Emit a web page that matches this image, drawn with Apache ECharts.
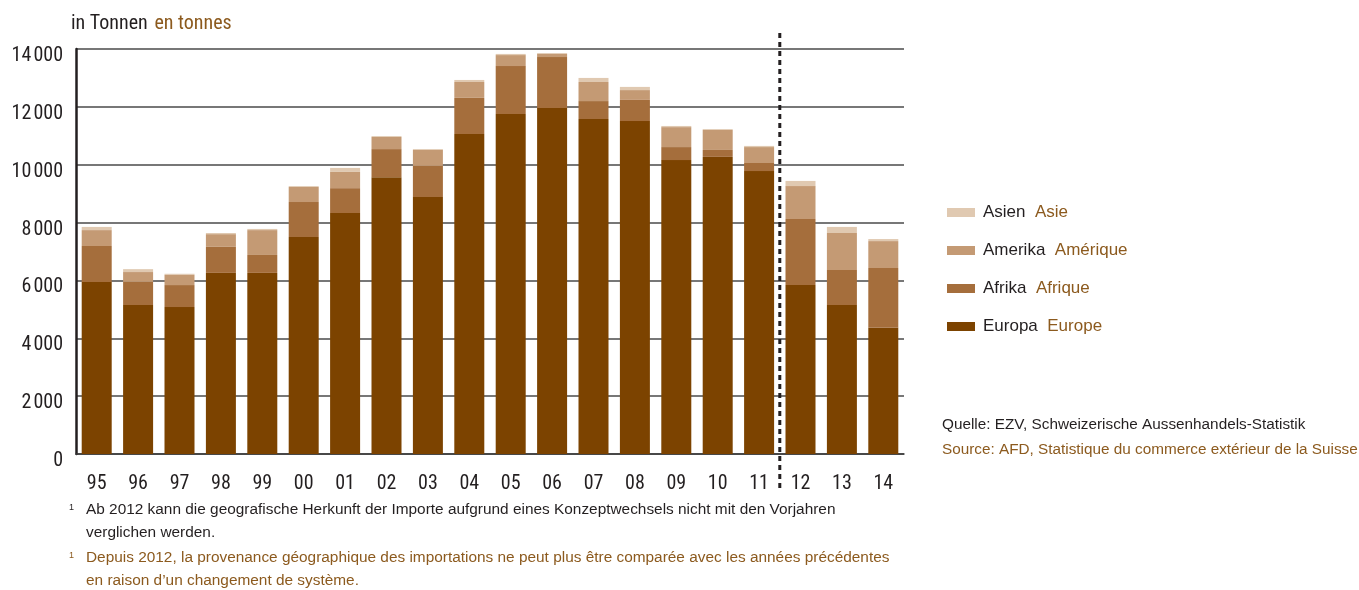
<!DOCTYPE html>
<html>
<head>
<meta charset="utf-8">
<script src="https://cdn.jsdelivr.net/npm/echarts@6/dist/echarts.min.js"></script>
<style>
html,body{margin:0;padding:0;background:#fff;}
#main{width:1359px;height:590px;}
</style>
</head>
<body>
<div id="main"></div>
<script>
const years = ['95','96','97','98','99','00','01','02','03','04','05','06','07','08','09','10','11','12','13','14'];
const europa  = [5950,5150,5080,6260,6260,7500,8330,9570,8880,11060,11750,11960,11580,11510,10160,10270,9780,5840,5150,4360];
const afrika  = [1240,800,760,900,620,1210,860,970,1080,1250,1660,1760,620,730,450,240,280,2280,1210,2070];
const amerika = [550,340,350,440,860,520,560,420,550,550,380,110,660,340,690,690,550,1140,1280,930];
const asien   = [110,100,40,40,40,30,140,30,30,70,40,30,140,110,40,30,40,180,210,70];
const seriesNamesDe = ['Europa','Afrika','Amerika','Asien'];
const seriesNamesFr = ['Europe','Afrique','Amérique','Asie'];
const seriesColors = ['#7c4300','#a56e3c','#c49a74','#e0c9b1'];
const breakAfter = '11';

const FONT = "'Roboto Condensed','Liberation Sans Narrow','Liberation Sans',sans-serif";
const SFONT = "'Liberation Sans',Arimo,Arial,sans-serif";
const DARK = '#231f20';
const BROWN = '#8c5a1e';

const chart = echarts.init(document.getElementById('main'), null, {renderer:'canvas'});
const dataSets = [europa, afrika, amerika, asien];
const series = dataSets.map((d, i) => ({
  name: seriesNamesDe[i],
  type: 'bar',
  stack: 'total',
  data: d,
  barWidth: 30,
  itemStyle: {color: seriesColors[i]},
  emphasis: {disabled: true}
}));

chart.setOption({
  animation: false,
  backgroundColor: '#fff',
  textStyle: {fontFamily: FONT},
  grid: {left: 76, right: 455, top: 49, bottom: 136, containLabel: false},
  xAxis: {
    type: 'category',
    data: years,
    axisTick: {show: false},
    axisLine: {show: true, lineStyle: {color: '#3a3a3a', width: 1.5}},
    axisLabel: {color: DARK, fontSize: 20, margin: 20, fontFamily: FONT}
  },
  yAxis: {
    type: 'value',
    min: 0, max: 14000, interval: 2000,
    axisLine: {show: true, lineStyle: {color: DARK, width: 2.5}},
    axisTick: {show: false},
    splitLine: {show: true, lineStyle: {color: '#4a4a4a', width: 1.5}},
    axisLabel: {
      color: DARK, fontSize: 20, margin: 13, fontFamily: FONT,
      verticalAlign: 'top', lineHeight: 14,
      formatter: v => v >= 1000 ? Math.floor(v/1000) + '\u200A' + String(v % 1000).padStart(3,'0') : String(v)
    }
  },
  legend: {
    orient: 'vertical',
    left: 942, top: 199,
    data: seriesNamesDe.slice().reverse(),
    icon: 'rect',
    itemWidth: 28, itemHeight: 9,
    itemGap: 21,
    selectedMode: false,
    formatter: name => {
      const i = seriesNamesDe.indexOf(name);
      return '{de|' + name + '}  {fr|' + seriesNamesFr[i] + '}';
    },
    textStyle: {
      fontFamily: SFONT, fontSize: 17, padding: [0,0,0,3],
      rich: {
        de: {color: DARK, fontSize: 17, fontFamily: SFONT},
        fr: {color: BROWN, fontSize: 17, fontFamily: SFONT}
      }
    }
  },
  series: series
});

// dashed separator between '11' and '12', computed from the axis
const idx = years.indexOf(breakAfter);
const x1 = chart.convertToPixel({xAxisIndex:0}, years[idx]);
const x2 = chart.convertToPixel({xAxisIndex:0}, years[idx+1]);
const xm = (x1 + x2) / 2;
const yTop = chart.convertToPixel({yAxisIndex:0}, 14000) - 16;
const yBot = chart.convertToPixel({yAxisIndex:0}, 0) + 36;

const txt = (x, y, text, color, size) => ({
  type: 'text', left: x, top: y,
  style: {text: text, fill: color, font: size + 'px ' + SFONT}
});

chart.setOption({
  graphic: [
    {type: 'line', shape: {x1: xm, y1: yTop, x2: xm, y2: yBot},
     style: {stroke: DARK, lineWidth: 3, lineDash: [5,4]}, z: 100},
    {type: 'text', left: 71, top: 14, style: {
      rich: {de: {fill: DARK, font: '20px ' + FONT}, fr: {fill: BROWN, font: '20px ' + FONT}},
      text: '{de|in Tonnen}  {fr|en tonnes}'}},
    txt(942, 417, 'Quelle: EZV, Schweizerische Aussenhandels-Statistik', DARK, 15.3),
    txt(942, 442, 'Source: AFD, Statistique du commerce extérieur de la Suisse', BROWN, 15.3),
    txt(69, 503, '1', DARK, 9),
    txt(86, 502, 'Ab 2012 kann die geografische Herkunft der Importe aufgrund eines Konzeptwechsels nicht mit den Vorjahren', DARK, 15.4),
    txt(86, 525, 'verglichen werden.', DARK, 15.4),
    txt(69, 551, '1', BROWN, 9),
    txt(86, 550, 'Depuis 2012, la provenance géographique des importations ne peut plus être comparée avec les années précédentes', BROWN, 15.4),
    txt(86, 573, 'en raison d\u2019un changement de système.', BROWN, 15.4)
  ]
});
</script>
</body>
</html>
